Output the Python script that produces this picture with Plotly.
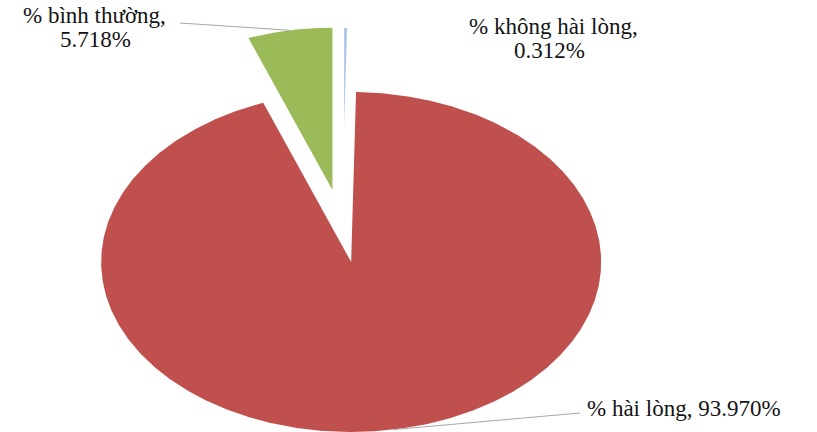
import numpy as np
import plotly.graph_objects as go

# Survey shares, listed clockwise from 12 o'clock
categories = ["% không hài lòng", "% hài lòng", "% bình thường"]
values = [0.312, 93.970, 5.718]
value_labels = ["0.312%", "93.970%", "5.718%"]

colors = ["#A9C4E8", "#C0504D", "#9BBB59"]
explode = [0.23, 0.20, 0.23]      # pull-out distance, in radii
radius = [0.955, 1.0, 0.955]      # relative slice radius

# Pixel scale of one radius unit (the pie is drawn as a wide ellipse)
W, H = 817, 432
RX, RY = 250.0, 170.0
CX, CY = 342.7, 228.5             # pie centre in pixels from top-left


def px_to_data(px, py):
    return (px - CX) / RX, (CY - py) / RY


x_range = [px_to_data(0, 0)[0], px_to_data(W, 0)[0]]
y_range = [px_to_data(0, H)[1], px_to_data(0, 0)[1]]

fig = go.Figure()

total = float(sum(values))
start = 0.0
mids, offsets = [], []
for i, v in enumerate(values):
    sweep = 360.0 * v / total
    a0, a1 = start, start + sweep
    mid = np.radians((a0 + a1) / 2)
    ox, oy = explode[i] * np.sin(mid), explode[i] * np.cos(mid)
    t = np.radians(np.linspace(a0, a1, max(3, int(sweep * 2))))
    xs = np.concatenate([[ox], ox + radius[i] * np.sin(t), [ox]])
    ys = np.concatenate([[oy], oy + radius[i] * np.cos(t), [oy]])
    fig.add_trace(go.Scatter(
        x=xs, y=ys, mode="lines", fill="toself", fillcolor=colors[i],
        line=dict(color="white", width=1.8 if v < 1 else 0),
        hoverinfo="text", text=f"{categories[i]}, {value_labels[i]}",
        showlegend=False,
    ))
    mids.append(mid)
    offsets.append((ox, oy))
    start = a1

# Leader lines from the slice rim to the label
leader_ends = {1: (580, 413), 2: (180, 23)}
for i, (lx, ly) in leader_ends.items():
    ox, oy = offsets[i]
    sx = ox + radius[i] * np.sin(mids[i])
    sy = oy + radius[i] * np.cos(mids[i])
    ex, ey = px_to_data(lx, ly)
    fig.add_trace(go.Scatter(
        x=[sx, ex], y=[sy, ey], mode="lines",
        line=dict(color="#A6A6A6", width=1),
        hoverinfo="skip", showlegend=False,
    ))

font = dict(family="'Liberation Serif', 'Times New Roman', 'DejaVu Serif', serif",
            size=23, color="#141414")


def label(text, px, py, xanchor="center"):
    x, y = px_to_data(px, py)
    fig.add_annotation(x=x, y=y, text=text, showarrow=False, font=font,
                       xanchor=xanchor, yanchor="middle")


label(categories[2] + ",", 94, 15)
label(value_labels[2], 95, 39)
label(categories[0] + ",", 553, 26)
label(value_labels[0], 549, 50)
label(f"{categories[1]}, {value_labels[1]}", 585, 408, xanchor="left")

fig.update_layout(
    width=W, height=H,
    margin=dict(l=0, r=0, t=0, b=0),
    paper_bgcolor="white", plot_bgcolor="white",
    font=font,
    xaxis=dict(range=x_range, visible=False, fixedrange=True),
    yaxis=dict(range=y_range, visible=False, fixedrange=True),
)

fig.write_html("out.html")
